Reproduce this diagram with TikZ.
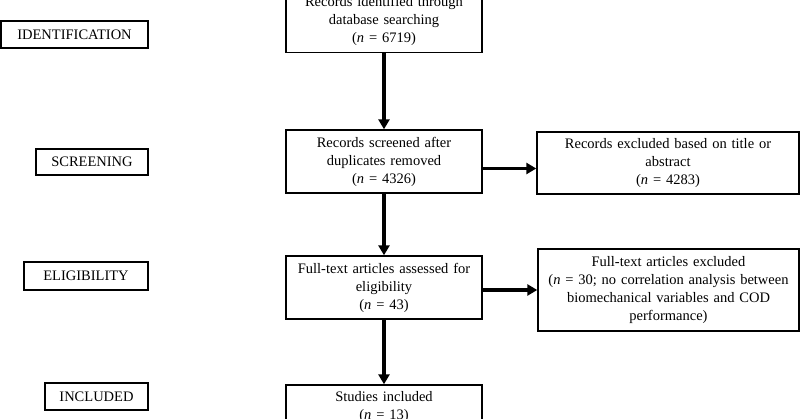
\documentclass[tikz,border=0pt]{standalone}
\usepackage{fontspec}
\setmainfont{Liberation Serif}
\usetikzlibrary{arrows.meta}
\begin{document}
\begin{tikzpicture}[x=1pt,y=-1pt,
  every node/.style={font=\fontsize{14.5}{18}\selectfont, inner sep=0pt, align=center},
  box/.style={draw, line width=1.4pt},
  phase/.style={box},
  arr/.style={line width=3.5pt, -{Triangle[width=11pt,length=10pt]}}]
\useasboundingbox (0,0) rectangle (800,419);
% phase labels
\node[phase, minimum width=147pt, minimum height=27pt] (p1) at (74.5,34.5) {IDENTIFICATION};
\node[phase, minimum width=112pt, minimum height=26pt] (p2) at (92,162) {SCREENING};
\node[phase, minimum width=124pt, minimum height=28pt] (p3) at (86,276) {ELIGIBILITY};
\node[phase, minimum width=103pt, minimum height=27pt] (p4) at (96.5,396.5) {INCLUDED};
% main column
\node[box, minimum width=196pt, minimum height=63pt, text width=190pt] (b1) at (384,21) {Records identified through\\database searching\\(\textit{n} = 6719)};
\node[box, minimum width=196pt, minimum height=63pt, text width=190pt] (b2) at (384,161.5) {Records screened after\\duplicates removed\\(\textit{n} = 4326)};
\node[box, minimum width=196pt, minimum height=63pt, text width=190pt] (b3) at (384,287.5) {Full-text articles assessed for\\eligibility\\(\textit{n} = 43)};
\node[box, minimum width=196pt, minimum height=45pt, text width=190pt] (b4) at (384,407.5) {Studies included\\(\textit{n} = 13)};
% right column
\node[box, minimum width=262pt, minimum height=62pt, text width=255pt] (r1) at (668,163) {Records excluded based on title or\\abstract\\(\textit{n} = 4283)};
\node[box, minimum width=261pt, minimum height=82pt, text width=255pt] (r2) at (668.5,290) {Full-text articles excluded\\(\textit{n} = 30; no correlation analysis between\\biomechanical variables and COD\\performance)};
% arrows
\draw[arr] (b1.south) -- (b2.north);
\draw[arr] (b2.south) -- (b3.north);
\draw[arr] (b3.south) -- (b4.north);
\draw[arr] ([yshift=-7pt]b2.east) -- ([yshift=-7pt]b2.east -| r1.west);
\draw[arr] ([yshift=-2.5pt]b3.east) -- ([yshift=-2.5pt]b3.east -| r2.west);
\end{tikzpicture}
\end{document}
